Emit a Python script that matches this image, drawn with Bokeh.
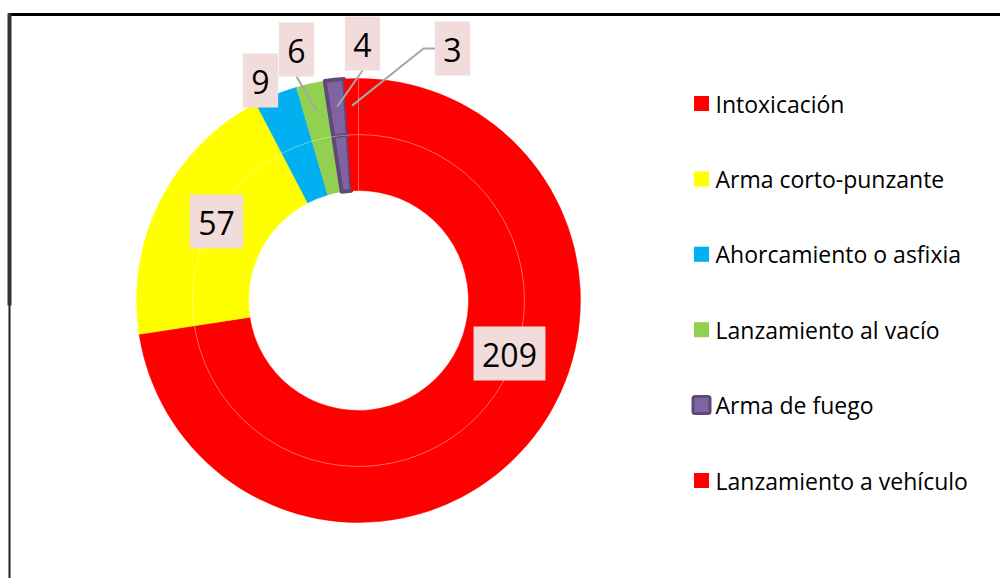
import math
from bokeh.plotting import figure
from bokeh.models import Range1d
from bokeh.core.properties import value
from bokeh.embed import file_html
from bokeh.resources import INLINE

# ---- data ----
categories = ["Intoxicación", "Arma corto-punzante", "Ahorcamiento o asfixia",
              "Lanzamiento al vacío", "Arma de fuego", "Lanzamiento a vehículo"]
values = [209, 57, 9, 6, 4, 3]
colors = ["#ff0000", "#ffff00", "#00b0f0", "#92d050", "#8064a2", "#ff0000"]

# ---- layout (reference pixel coordinates, y downward) ----
W, H = 1000, 578
CX, CY = 358, 300
R_IN, R_MID, R_OUT = 110, 166, 222
FONT = "Open Sans"
# label box centres
label_pos = [(509, 353), (216, 221), (260, 80), (296, 49), (362, 43), (452, 48)]
leader = [False, False, False, True, True, True]

def Y(py):
    return H - py

p = figure(width=W, height=H, output_backend="svg", toolbar_location=None,
           x_range=Range1d(0, W), y_range=Range1d(0, H), min_border=0)
p.axis.visible = False
p.grid.visible = False
p.outline_line_color = None
p.background_fill_color = "white"
p.border_fill_color = "white"

total = sum(values)
starts, ends, mids = [], [], []
cum = 0
for v in values:
    a0 = math.pi / 2 - cum / total * 2 * math.pi
    cum += v
    a1 = math.pi / 2 - cum / total * 2 * math.pi
    starts.append(a0)
    ends.append(a1)
    mids.append((a0 + a1) / 2)

for (ri, ro) in [(R_IN, R_MID), (R_MID, R_OUT)]:
    for i, v in enumerate(values):
        is_purple = categories[i] == "Arma de fuego"
        p.annular_wedge(x=CX, y=Y(CY), inner_radius=ri, outer_radius=ro,
                        start_angle=starts[i], end_angle=ends[i], direction="clock",
                        fill_color=colors[i],
                        line_color="#5f497a" if is_purple else colors[i],
                        line_width=4 if is_purple else 0.5,
                        line_join="round")

# faint ring separator and 12 o'clock seam
p.circle(x=CX, y=Y(CY), radius=R_MID, fill_color=None, line_color="white",
         line_alpha=0.35, line_width=1)
p.segment(x0=CX, y0=Y(CY - R_IN), x1=CX, y1=Y(CY - R_OUT), line_color="white",
          line_alpha=0.35, line_width=1)

# leader lines
for i, v in enumerate(values):
    if not leader[i]:
        continue
    lx, ly = label_pos[i]
    tx = CX + 195 * math.cos(mids[i])
    ty = CY - 195 * math.sin(mids[i])
    if i == len(values) - 1:
        xs = [lx - 17, lx - 29, tx]
        ys = [Y(ly), Y(ly), Y(ty)]
    else:
        xs = [lx, tx]
        ys = [Y(ly + 27), Y(ty)]
    p.line(xs, ys, line_color="#a6a6a6", line_width=2)

# data labels
for i, v in enumerate(values):
    lx, ly = label_pos[i]
    s = str(v)
    bw = len(s) * 18.3 + 17
    p.rect(x=lx, y=Y(ly), width=bw, height=54, fill_color="#f2dcdb", line_color=None)
    p.text(x=[lx], y=[Y(ly) - 1], text=[s], text_font=value(FONT), text_font_size="32px",
           text_align="center", text_baseline="middle", text_color="black")

# legend
LX, LY0, LDY = 701, 103, 75.4
for i, c in enumerate(categories):
    y = LY0 + i * LDY
    if c == "Arma de fuego":
        p.rect(x=LX, y=Y(y), width=17, height=17, fill_color="#8064a2",
               line_color="#5f497a", line_width=3, border_radius=2)
    else:
        p.rect(x=LX, y=Y(y), width=15, height=15, fill_color=colors[i], line_color=None)
    p.text(x=[715], y=[Y(y)], text=[c], text_font=value(FONT), text_font_size="23px",
           text_align="left", text_baseline="middle", text_color="black")

# frame
p.line([8, 1008], [Y(14), Y(14)], line_color="black", line_width=3)
p.line([9, 9], [Y(13), Y(586)], line_color="#222222", line_width=2)
p.line([9, 9], [Y(13), Y(305)], line_color="#333333", line_width=4)

open("out.html", "w").write(file_html(p, INLINE))
